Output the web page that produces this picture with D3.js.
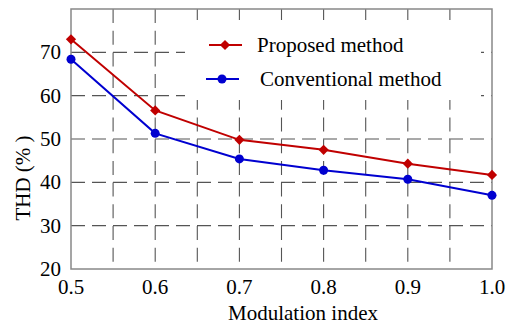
<!DOCTYPE html>
<html>
<head>
<meta charset="utf-8">
<script src="https://cdn.jsdelivr.net/npm/d3@7"></script>
<style>
  body { margin: 0; background: #fff; }
</style>
</head>
<body>
<div id="chart"></div>
<script>
// data
var modIndex = [0.5, 0.6, 0.7, 0.8, 0.9, 1.0];
var proposed = [73.0, 56.6, 49.8, 47.5, 44.3, 41.7];
var conventional = [68.4, 51.3, 45.4, 42.8, 40.7, 37.0];
var seriesNames = ["Proposed method", "Conventional method"];
var xTicks = [0.5, 0.6, 0.7, 0.8, 0.9, 1.0];
var yTicks = [20, 30, 40, 50, 60, 70];

var width = 509, height = 327;
var margin = {top: 9, right: 17, bottom: 58, left: 71};
var w = width - margin.left - margin.right,
    h = height - margin.top - margin.bottom;
var font = "'Liberation Serif'";

var svg = d3.select("#chart")
    .append("svg")
    .attr("width", width)
    .attr("height", height);

var g = svg.append("g")
    .attr("transform", "translate(" + margin.left + "," + margin.top + ")");

var x = d3.scaleLinear().domain([0.5, 1.0]).range([0, w]);
var y = d3.scaleLinear().domain([20, 80]).range([h, 0]);

// dashed grid: vertical every 0.05, horizontal every 10
var gridX = d3.range(0.55, 1.0, 0.05);
g.selectAll(".gx").data(gridX).enter().append("line")
    .attr("x1", d => x(d)).attr("x2", d => x(d))
    .attr("y1", 0).attr("y2", h)
    .attr("stroke", "#555").attr("stroke-width", 1.1)
    .attr("stroke-dasharray", "14,7.7");
g.selectAll(".gy").data(d3.range(30, 80, 10)).enter().append("line")
    .attr("x1", 0).attr("x2", w)
    .attr("y1", d => y(d)).attr("y2", d => y(d))
    .attr("stroke", "#555").attr("stroke-width", 1.1)
    .attr("stroke-dasharray", "14,7");

// legend background hides the grid behind it
g.append("rect")
    .attr("x", 114).attr("y", 11)
    .attr("width", 296).attr("height", 80)
    .attr("fill", "#fff");

// frame
g.append("rect")
    .attr("x", 0).attr("y", 0).attr("width", w).attr("height", h)
    .attr("fill", "none").attr("stroke", "#888").attr("stroke-width", 1.5);

// tick labels
g.selectAll(".xt").data(xTicks).enter().append("text")
    .attr("x", d => x(d)).attr("y", h + 25)
    .attr("text-anchor", "middle")
    .style("font-family", font)
    .style("font-size", "21px")
    .text(d => d.toFixed(1));
g.selectAll(".yt").data(yTicks).enter().append("text")
    .attr("x", -10).attr("y", d => y(d) + 7)
    .attr("text-anchor", "end")
    .style("font-family", font)
    .style("font-size", "21px")
    .text(d => d);

// axis titles
svg.append("text")
    .attr("x", 303).attr("y", 320)
    .attr("text-anchor", "middle")
    .style("font-family", font)
    .style("font-size", "21px")
    .text("Modulation index");
svg.append("text")
    .attr("transform", "translate(30,178) rotate(-90)")
    .attr("text-anchor", "middle")
    .style("font-family", font)
    .style("font-size", "21px")
    .text("THD (% )");

var line = d3.line()
    .x((d, i) => x(modIndex[i]))
    .y(d => y(d));

var red = "#c00000", blue = "#0000d0";

g.append("path").datum(proposed)
    .attr("d", line).attr("fill", "none")
    .attr("stroke", red).attr("stroke-width", 2);
g.append("path").datum(conventional)
    .attr("d", line).attr("fill", "none")
    .attr("stroke", blue).attr("stroke-width", 2);

// square turned 45 degrees gives the even diamond of the figure
var diamond = d3.symbol().type(d3.symbolSquare).size(52);
g.selectAll(".pm").data(proposed).enter().append("path")
    .attr("d", diamond)
    .attr("transform", (d, i) => "translate(" + x(modIndex[i]) + "," + y(d) + ") rotate(45)")
    .attr("fill", red);
g.selectAll(".cm").data(conventional).enter().append("circle")
    .attr("cx", (d, i) => x(modIndex[i])).attr("cy", d => y(d))
    .attr("r", 4.5).attr("fill", blue);

// legend
var legend = g.append("g");
var legY = [36, 70], legX = [138, 135];
var colors = [red, blue];
seriesNames.forEach(function(name, i) {
    legend.append("line")
        .attr("x1", legX[i]).attr("x2", legX[i] + 33)
        .attr("y1", legY[i]).attr("y2", legY[i])
        .attr("stroke", colors[i]).attr("stroke-width", 2);
    if (i == 0) {
        legend.append("path").attr("d", diamond)
            .attr("transform", "translate(" + (legX[i] + 16) + "," + legY[i] + ") rotate(45)")
            .attr("fill", colors[i]);
    } else {
        legend.append("circle")
            .attr("cx", legX[i] + 16).attr("cy", legY[i]).attr("r", 4.5)
            .attr("fill", colors[i]);
    }
    legend.append("text")
        .attr("x", i == 0 ? 186 : 189).attr("y", legY[i] + 7)
        .style("font-family", font)
        .style("font-size", "21px")
        .text(name);
});
</script>
</body>
</html>
